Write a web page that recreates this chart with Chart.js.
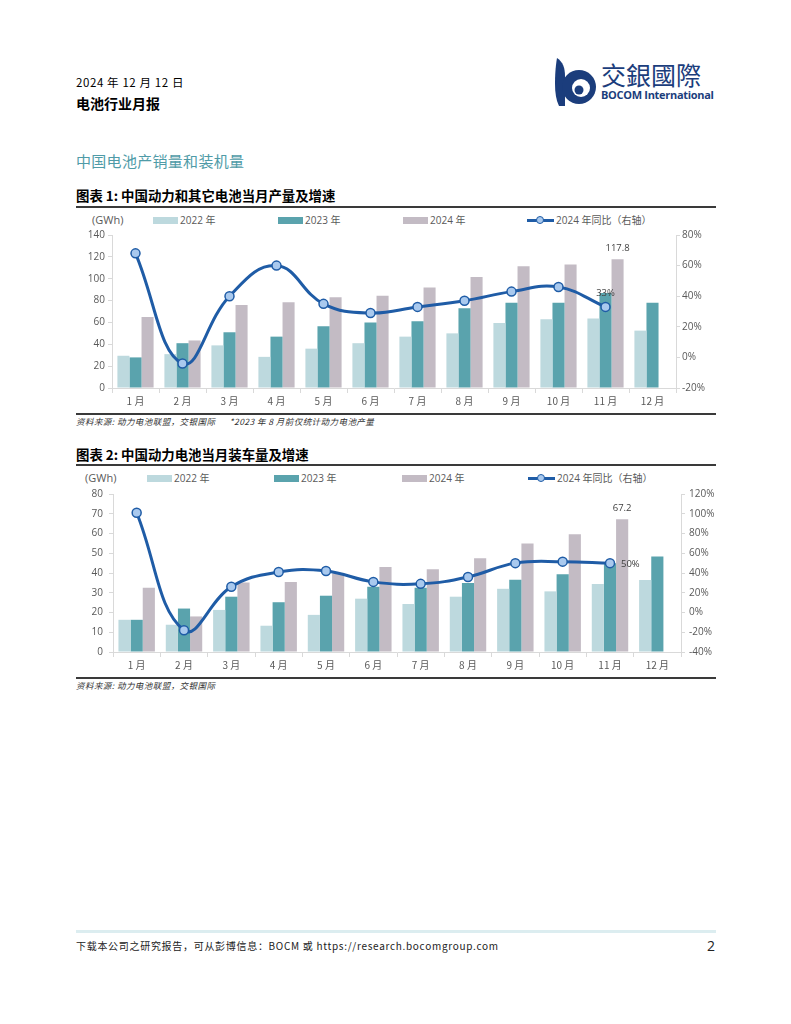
<!DOCTYPE html>
<html lang="zh-CN">
<head>
<meta charset="utf-8">
<script src="https://cdn.jsdelivr.net/npm/chart.js@4.4.1/dist/chart.umd.min.js"></script>
<style>
  body { margin: 0; background: #fff; font-family: "Noto Sans CJK SC", "Noto Sans", sans-serif; color: #000; }
  #page { position: relative; width: 791px; height: 1024px; overflow: hidden; }
  .t { position: absolute; white-space: nowrap; }
  .rule { position: absolute; left: 76px; width: 640px; background: #3a3a3a; }
  .box { position: absolute; }
  .leg { position: absolute; font-size: 10px; line-height: 12px; color: #595959; white-space: nowrap; font-family: "Open Sans", "Noto Sans CJK SC", sans-serif; }
  canvas { position: absolute; }
</style>
</head>
<body>
<div id="page">
  <div class="t" style="left:76px;top:75px;font-size:11.5px;line-height:14px;letter-spacing:0.6px;">2024 年 12 月 12 日</div>
  <div class="t" style="left:76px;top:95px;font-size:14px;line-height:16px;font-weight:700;">电池行业月报</div>

  <!-- logo -->
  <svg class="t" style="left:553px;top:56px;" width="50" height="52" viewBox="0 0 50 52">
    <path d="M4 2 C10 6 12 12 12 20 L12 50 L6 50 C3 44 2 36 2 28 C2 16 3 8 4 2 Z" fill="#1b3d7c"/>
    <circle cx="26" cy="31" r="17" fill="#1b3d7c"/>
    <circle cx="28" cy="32" r="9" fill="#fff"/>
    <circle cx="26" cy="34" r="4.5" fill="#1b3d7c"/>
  </svg>
  <div class="t" style="left:601px;top:59px;font-size:25px;line-height:30px;color:#1b3d7c;font-family:'Noto Sans CJK TC',sans-serif;">交銀國際</div>
  <div class="t" style="left:601px;top:88px;font-size:11px;line-height:13px;color:#1b3d7c;font-weight:700;font-family:'Open Sans',sans-serif;letter-spacing:-0.3px;">BOCOM International</div>

  <div class="t" style="left:76px;top:152px;font-size:15px;line-height:18px;color:#4f9ba7;letter-spacing:0.3px;">中国电池产销量和装机量</div>

  <div class="t" style="left:76px;top:187px;font-size:13.4px;line-height:16px;font-weight:700;">图表 1: 中国动力和其它电池当月产量及增速</div>
  <div class="rule" style="top:206px;height:2px;"></div>
  <div id="leg1"></div>
  <canvas id="c1" style="left:76px;top:208px;width:640px;height:204px;"></canvas>
  <div class="rule" style="top:413px;height:1.5px;"></div>
  <div class="t" style="left:76px;top:415px;font-size:8.5px;line-height:12px;font-style:italic;color:#333;letter-spacing:0.45px;">资料来源: 动力电池联盟，交银国际&nbsp;&nbsp;&nbsp;&nbsp;&nbsp;&nbsp;*2023 年 8 月前仅统计动力电池产量</div>

  <div class="t" style="left:76px;top:446px;font-size:13.4px;line-height:16px;font-weight:700;">图表 2: 中国动力电池当月装车量及增速</div>
  <div class="rule" style="top:464px;height:2px;"></div>
  <div id="leg2"></div>
  <canvas id="c2" style="left:76px;top:466px;width:640px;height:211px;"></canvas>
  <div class="rule" style="top:677px;height:1.5px;"></div>
  <div class="t" style="left:76px;top:679px;font-size:8.5px;line-height:12px;font-style:italic;color:#333;letter-spacing:0.45px;">资料来源: 动力电池联盟，交银国际</div>

  <div class="box" style="left:76px;top:930px;width:640px;height:3px;background:#dcedf0;"></div>
  <div class="t" style="left:76px;top:939px;font-size:10px;line-height:14px;color:#222;letter-spacing:0.7px;">下载本公司之研究报告，可从彭博信息：BOCM 或 https://research.bocomgroup.com</div>
  <div class="t" style="left:707px;top:938px;font-size:14px;line-height:16px;color:#222;font-family:'Open Sans',sans-serif;">2</div>
</div>

<script>
// categories
const months = ['1 月', '2 月', '3 月', '4 月', '5 月', '6 月', '7 月', '8 月', '9 月', '10 月', '11 月', '12 月'];
const seriesNames = ['2022 年', '2023 年', '2024 年', '2024 年同比（右轴）'];

// chart 1: monthly output (GWh) and 2024 yoy (%)
const prod2022 = [29.5, 31, 39, 28.5, 36, 41, 47, 50, 59.5, 63, 63.5, 52.5];
const prod2023 = [28, 41, 51, 47, 56.5, 60, 61, 73, 78, 78, 87, 78];
const prod2024 = [65, 43.5, 76, 78.5, 83, 84.5, 92, 101.5, 111.5, 113, 117.8, null];
const prodYoy = [68, -4, 40, 60, 35, 29, 33, 37, 43, 46, 33, null];

// chart 2: monthly installations (GWh) and 2024 yoy (%)
const inst2022 = [16.3, 13.8, 21.3, 13.3, 18.8, 27, 24.3, 28, 32, 30.7, 34.4, 36.4];
const inst2023 = [16.3, 22, 28, 25.2, 28.5, 33, 32.5, 35, 36.6, 39.4, 45, 48.3];
const inst2024 = [32.5, 18, 35.2, 35.5, 39.8, 43, 41.9, 47.5, 55, 59.6, 67.2, null];
const instYoy = [101, -18, 26, 41, 42, 31, 29, 36, 50, 51.5, 50, null];

const C22 = '#bdd9de', C23 = '#5aa3ad', C24 = '#c3bbc4', CLINE = '#1f5ca6', CPT = '#a9c9ee';
const AXIS = '#d9d9d9', TXT = '#595959';

function legend(id, top, pos) {
  // pos: [unit x, box22 x, box23 x, box24 x, line x]
  const el = document.getElementById(id);
  let h = '<div class="leg" style="left:' + pos[0] + 'px;top:' + (top - 7) + 'px;font-size:11px;line-height:14px;">(GWh)</div>';
  [C22, C23, C24].forEach((c, i) => {
    h += '<div class="box" style="left:' + pos[i + 1] + 'px;top:' + (top - 3) + 'px;width:25px;height:7px;background:' + c + ';"></div>';
    h += '<div class="leg" style="left:' + (pos[i + 1] + 27) + 'px;top:' + (top - 6) + 'px;">' + seriesNames[i] + '</div>';
  });
  const lx = pos[4];
  h += '<div class="box" style="left:' + lx + 'px;top:' + (top - 1.5) + 'px;width:27px;height:3px;background:' + CLINE + ';"></div>';
  h += '<div class="box" style="left:' + (lx + 9) + 'px;top:' + (top - 4.5) + 'px;width:6px;height:6px;border-radius:50%;background:' + CPT + ';border:1.5px solid ' + CLINE + ';"></div>';
  h += '<div class="leg" style="left:' + (lx + 29) + 'px;top:' + (top - 6) + 'px;">' + seriesNames[3] + '</div>';
  el.innerHTML = h;
}

const labelPlugin = {
  id: 'labels',
  afterDatasetsDraw(chart, args, opts) {
    const ctx = chart.ctx;
    ctx.save();
    ctx.font = '9.5px "Open Sans", sans-serif';
    ctx.fillStyle = '#404040';
    const bar = chart.getDatasetMeta(3).data[10];
    ctx.textAlign = 'center';
    ctx.textBaseline = 'middle';
    ctx.fillText(opts.barText, bar.x, bar.y - 11);
    const pt = chart.getDatasetMeta(0).data[10];
    if (opts.lineSide === 'right') {
      ctx.textAlign = 'left';
      ctx.fillText(opts.lineText, pt.x + 11, pt.y + 1);
    } else {
      ctx.fillText(opts.lineText, pt.x, pt.y - 14);
    }
    ctx.restore();
  }
};

function makeChart(id, d22, d23, d24, yoy, cfg) {
  const tickFont = { family: '"Open Sans", sans-serif', size: 10 };
  return new Chart(document.getElementById(id), {
    type: 'bar',
    data: {
      labels: months,
      datasets: [
        { type: 'line', label: seriesNames[3], data: yoy, yAxisID: 'y1', order: 0,
          borderColor: CLINE, borderWidth: 3, tension: 0.42, pointRadius: 4.5,
          pointBackgroundColor: CPT, pointBorderColor: CLINE, pointBorderWidth: 1.5 },
        { label: seriesNames[0], data: d22, backgroundColor: C22, order: 1 },
        { label: seriesNames[1], data: d23, backgroundColor: C23, order: 1 },
        { label: seriesNames[2], data: d24, backgroundColor: C24, order: 1 }
      ]
    },
    options: {
      responsive: false,
      animation: false,
      devicePixelRatio: 1,
      layout: { padding: { top: cfg.padTop, left: 0, right: 0, bottom: 0 } },
      datasets: { bar: { categoryPercentage: 0.77, barPercentage: 1.0 } },
      plugins: { legend: { display: false }, tooltip: { enabled: false },
        labels: { barText: cfg.barText, lineText: cfg.lineText, lineSide: cfg.lineSide } },
      scales: {
        x: {
          offset: true,
          grid: { offset: true, drawOnChartArea: false, color: AXIS, tickLength: 5 },
          border: { color: AXIS },
          ticks: { color: TXT, font: { family: '"Noto Sans CJK SC", sans-serif', size: 10 }, padding: 2, maxRotation: 0 },
          afterFit(s) { s.height = cfg.xH; }
        },
        y: {
          position: 'left', min: cfg.yMin, max: cfg.yMax,
          ticks: { stepSize: cfg.yStep, color: TXT, font: tickFont, padding: cfg.yPad },
          grid: { drawOnChartArea: false, color: AXIS, tickLength: 4 },
          border: { color: AXIS },
          afterFit(s) { s.width = cfg.yW; }
        },
        y1: {
          position: 'right', min: cfg.y1Min, max: cfg.y1Max,
          ticks: { stepSize: 20, color: TXT, font: tickFont, padding: cfg.y1Pad, callback: v => v + '%' },
          grid: { drawOnChartArea: false, color: AXIS, tickLength: 4 },
          border: { color: AXIS },
          afterFit(s) { s.width = cfg.y1W; }
        }
      }
    },
    plugins: [labelPlugin]
  });
}

function sizeCanvas(id, w, h) {
  const c = document.getElementById(id);
  c.width = w; c.height = h;
}

legend('leg1', 220, [92, 153, 278, 403, 527]);
legend('leg2', 478, [85, 147, 274, 402, 528]);

sizeCanvas('c1', 640, 204);
sizeCanvas('c2', 640, 211);

makeChart('c1', prod2022, prod2023, prod2024, prodYoy, {
  padTop: 27, xH: 24, yW: 36, y1W: 40, yPad: 3, y1Pad: 2,
  yMin: 0, yMax: 140, yStep: 20, y1Min: -20, y1Max: 80,
  barText: '117.8', lineText: '33%', lineSide: 'top'
});

makeChart('c2', inst2022, inst2023, inst2024, instYoy, {
  padTop: 28, xH: 25, yW: 37, y1W: 35, yPad: 6, y1Pad: 4,
  yMin: 0, yMax: 80, yStep: 10, y1Min: -40, y1Max: 120,
  barText: '67.2', lineText: '50%', lineSide: 'right'
});
</script>
</body>
</html>
